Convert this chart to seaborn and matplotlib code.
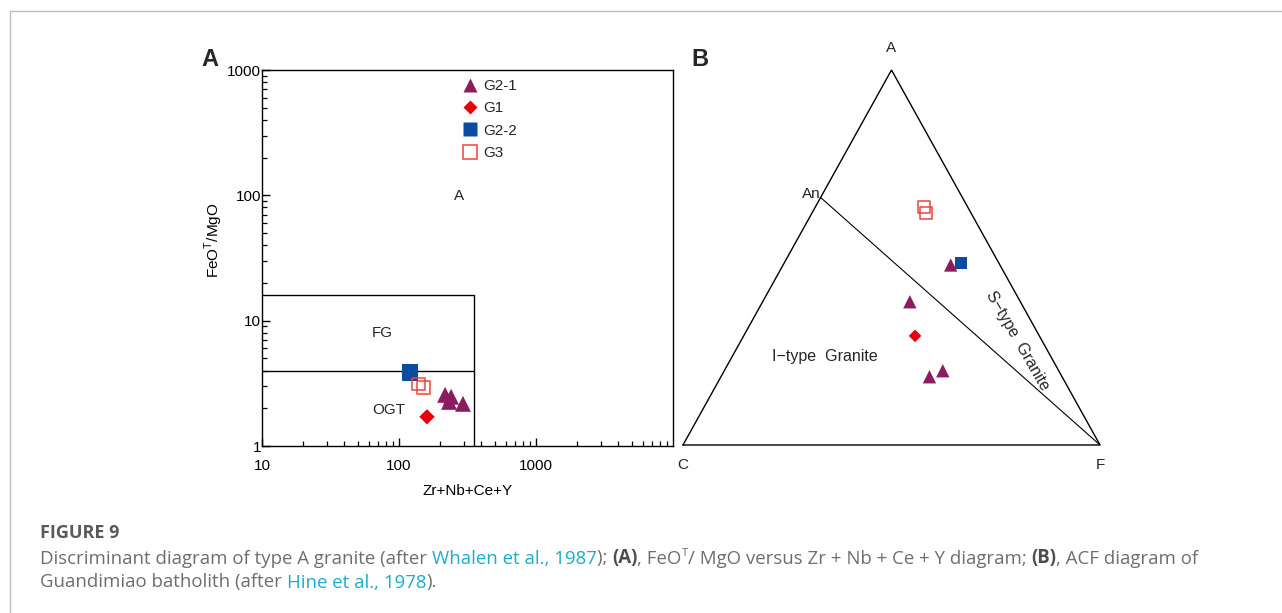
import matplotlib
matplotlib.use("Agg")
import numpy as np
import pandas as pd
import seaborn as sns
import matplotlib.pyplot as plt
from matplotlib.lines import Line2D
from matplotlib.ticker import LogLocator, NullFormatter

# ---------------- data ----------------
groups = ["G2-1", "G1", "G2-2", "G3"]

# (A) FeOT/MgO versus Zr+Nb+Ce+Y
zr_g21 = [217, 240, 232, 293]
fm_g21 = [2.56, 2.47, 2.25, 2.17]
zr_g1 = [160]
fm_g1 = [1.71]
zr_g22 = [120]
fm_g22 = [3.84]
zr_g3 = [138, 150]
fm_g3 = [3.13, 2.95]

# Whalen et al. (1987) field boundaries
zr_limit = 350
fg_top = 16
ogt_top = 4

# (B) ACF compositions as fractions (A, C, F)
acf_g21 = [(0.48, 0.118, 0.402), (0.382, 0.265, 0.353),
           (0.182, 0.318, 0.500), (0.198, 0.278, 0.524)]
acf_g1 = [(0.291, 0.298, 0.411)]
acf_g22 = [(0.486, 0.090, 0.424)]
acf_g3 = [(0.635, 0.104, 0.261), (0.618, 0.109, 0.273)]
an_point = (0.66, 0.34, 0.0)   # An on the A-C join

style = {
    "G2-1": dict(marker="^", color="#8c1c60", open=False),
    "G1":   dict(marker="D", color="#e8000c", open=False),
    "G2-2": dict(marker="s", color="#0b4ca0", open=False),
    "G3":   dict(marker="s", color="#f0423c", open=True),
}
size_a = {"G2-1": 11.5, "G1": 7.8, "G2-2": 12, "G3": 9.2}
size_b = {"G2-1": 9.6, "G1": 6.4, "G2-2": 8.8, "G3": 8.8}
size_leg = {"G2-1": 10, "G1": 7, "G2-2": 9.4, "G3": 9.4}

df_a = pd.concat([
    pd.DataFrame({"zr": zr_g21, "fm": fm_g21, "group": "G2-1"}),
    pd.DataFrame({"zr": zr_g1, "fm": fm_g1, "group": "G1"}),
    pd.DataFrame({"zr": zr_g22, "fm": fm_g22, "group": "G2-2"}),
    pd.DataFrame({"zr": zr_g3, "fm": fm_g3, "group": "G3"}),
], ignore_index=True)


def to_xy(comp):
    a, c, f = comp
    return f + 0.5 * a, a


rows = []
for g, comps in zip(groups, [acf_g21, acf_g1, acf_g22, acf_g3]):
    for comp in comps:
        x, y = to_xy(comp)
        rows.append({"x": x, "y": y, "group": g})
df_b = pd.DataFrame(rows)

# ---------------- figure ----------------
sns.set_theme(style="white")
plt.rcParams["font.family"] = ["Liberation Sans", "DejaVu Sans"]
plt.rcParams["axes.edgecolor"] = "black"
plt.rcParams["axes.linewidth"] = 1.0

W, H = 1282, 613
fig = plt.figure(figsize=(W / 100, H / 100), dpi=100)
fig.patch.set_facecolor("white")

FS = 11


def rect(l, t, r, b):
    return [l / W, 1 - b / H, (r - l) / W, (b - t) / H]


def scatter_groups(ax, df, xcol, ycol, sizes):
    for g in groups:
        st = style[g]
        sub = df[df["group"] == g]
        if st["open"]:
            sns.scatterplot(data=sub, x=xcol, y=ycol, ax=ax, marker=st["marker"],
                            s=sizes[g] ** 2, facecolors="none",
                            edgecolor=st["color"], linewidth=1.1,
                            legend=False, zorder=4, clip_on=False)
        else:
            sns.scatterplot(data=sub, x=xcol, y=ycol, ax=ax, marker=st["marker"],
                            s=sizes[g] ** 2, color=st["color"],
                            edgecolor="none", linewidth=0,
                            legend=False, zorder=4, clip_on=False)


# ---- panel A ----
axA = fig.add_axes(rect(262, 70, 673, 446))
axA.set_xscale("log")
axA.set_yscale("log")
axA.set_xlim(10, 10000)
axA.set_ylim(1, 1000)

axA.plot([10, zr_limit], [fg_top, fg_top], color="black", lw=1.0, zorder=2)
axA.plot([10, zr_limit], [ogt_top, ogt_top], color="black", lw=1.0, zorder=2)
axA.plot([zr_limit, zr_limit], [1, fg_top], color="black", lw=1.0, zorder=2)

scatter_groups(axA, df_a, "zr", "fm", size_a)

axA.set_xticks([10, 100, 1000], labels=["10", "100", "1000"])
axA.set_yticks([1, 10, 100, 1000], labels=["1", "10", "100", "1000"])
axA.xaxis.set_minor_locator(LogLocator(base=10, subs=np.arange(2, 10), numticks=20))
axA.yaxis.set_minor_locator(LogLocator(base=10, subs=np.arange(2, 10), numticks=20))
axA.xaxis.set_minor_formatter(NullFormatter())
axA.yaxis.set_minor_formatter(NullFormatter())
axA.tick_params(axis="both", which="both", direction="in", top=False, right=False,
                bottom=True, left=True, color="black", labelsize=FS,
                labelcolor="black")
axA.tick_params(which="major", length=6, width=1.0)
axA.tick_params(which="minor", length=3.5, width=0.9)
axA.tick_params(axis="y", which="both", pad=0.5)
axA.tick_params(axis="x", which="both", pad=9.5)
for sp in axA.spines.values():
    sp.set_visible(True)
    sp.set_color("black")
    sp.set_linewidth(1.0)

axA.set_xlabel("Zr+Nb+Ce+Y", fontsize=FS, color="black")
axA.xaxis.set_label_coords(0.5, -0.101)
axA.set_ylabel(r"FeO$^{\mathregular{T}}$/MgO", fontsize=FS, color="black")
axA.yaxis.set_label_coords(-0.09, 0.548)

axA.text(274, 98, "A", fontsize=FS, ha="center", va="center")
axA.text(76, 7.9, "FG", fontsize=FS, ha="center", va="center")
axA.text(84.5, 1.92, "OGT", fontsize=FS, ha="center", va="center")

handles = []
for g in groups:
    st = style[g]
    if st["open"]:
        h = Line2D([], [], linestyle="none", marker=st["marker"], markersize=size_leg[g],
                   markerfacecolor="none", markeredgecolor=st["color"], markeredgewidth=1.1)
    else:
        h = Line2D([], [], linestyle="none", marker=st["marker"], markersize=size_leg[g],
                   markerfacecolor=st["color"], markeredgecolor="none")
    handles.append(h)
axA.legend(handles, groups, loc="upper left", bbox_to_anchor=(0.488, 0.976),
           frameon=False, fontsize=FS, handlelength=0.95, handletextpad=0.4,
           labelspacing=0.55, borderpad=0, borderaxespad=0)

# ---- panel B ----
axB = fig.add_axes(rect(683, 70, 1100, 445))
axB.set_xlim(0, 1)
axB.set_ylim(0, 1)
axB.axis("off")

apex = to_xy((1, 0, 0))
c_pt = to_xy((0, 1, 0))
f_pt = to_xy((0, 0, 1))
an_xy = to_xy(an_point)
axB.plot([c_pt[0], f_pt[0], apex[0], c_pt[0]], [c_pt[1], f_pt[1], apex[1], c_pt[1]],
         color="black", lw=1.0, clip_on=False, solid_joinstyle="miter")
axB.plot([an_xy[0], f_pt[0]], [an_xy[1], f_pt[1]], color="black", lw=0.8, clip_on=False)

scatter_groups(axB, df_b, "x", "y", size_b)

axB.text(apex[0], apex[1] + 0.058, "A", fontsize=FS, ha="center", va="center")
axB.text(c_pt[0], c_pt[1] - 0.053, "C", fontsize=FS, ha="center", va="center")
axB.text(f_pt[0], f_pt[1] - 0.053, "F", fontsize=FS, ha="center", va="center")
axB.text(an_xy[0] - 0.001, an_xy[1] + 0.01, "An", fontsize=FS, ha="right", va="center")
axB.text((825 - 683) / 417, (445 - 357) / 375, "I\u2212type  Granite", fontsize=11.5,
         ha="center", va="center")
axB.text((1017 - 683) / 417, (445 - 341) / 375, "S\u2212type  Granite", fontsize=11.5,
         ha="center", va="center", rotation=-60, rotation_mode="anchor")
axB.set_xlabel("")
axB.set_ylabel("")

# panel letters
fig.text(210 / W, 1 - 60 / H, "A", fontsize=17, fontweight="bold", ha="center", va="center")
fig.text(700 / W, 1 - 59 / H, "B", fontsize=17, fontweight="bold", ha="center", va="center")

# card border
fig.add_artist(Line2D([9.5 / W, 1], [1 - 10.5 / H, 1 - 10.5 / H], color="#bdbdbd", lw=1.0))
fig.add_artist(Line2D([9.5 / W, 9.5 / W], [0, 1 - 10.5 / H], color="#bdbdbd", lw=1.0))

# ---------------- caption ----------------
renderer = fig.canvas.get_renderer()
cap_font = "Open Sans"
gray = "#6e6e6e"
cyan = "#1aadcc"
dark = "#4d4d4d"


def text_width(s, **kw):
    t = fig.text(0, 0, s + "x", **kw)
    w1 = t.get_window_extent(renderer).width
    t.set_text("x")
    w2 = t.get_window_extent(renderer).width
    t.remove()
    return w1 - w2


def draw_runs(runs, x0, baseline, fs):
    x = x0
    for s, color, weight, rise, scale in runs:
        kw = dict(fontsize=fs * scale, color=color, fontweight=weight, family=cap_font)
        fig.text(x / W, 1 - (baseline - rise) / H, s, ha="left", va="baseline", **kw)
        x += text_width(s, **kw)


fig.text(40 / W, 1 - 538.5 / H, "FIGURE 9", fontsize=13, fontweight="bold", color="#595959",
         family=cap_font, ha="left", va="baseline")

line1 = [
    ("Discriminant diagram of type A granite (after ", gray, "normal", 0, 1),
    ("Whalen et al., 1987", cyan, "normal", 0, 1),
    ("); ", gray, "normal", 0, 1),
    ("(A)", dark, "bold", 0, 1),
    (", FeO", gray, "normal", 0, 1),
    ("T", gray, "normal", 7, 0.6),
    ("/ MgO versus Zr + Nb + Ce + Y diagram; ", gray, "normal", 0, 1),
    ("(B)", dark, "bold", 0, 1),
    (", ACF diagram of", gray, "normal", 0, 1),
]
line2 = [
    ("Guandimiao batholith (after ", gray, "normal", 0, 1),
    ("Hine et al., 1978", cyan, "normal", 0, 1),
    (").", gray, "normal", 0, 1),
]
draw_runs(line1, 40, 563.5, 13.4)
draw_runs(line2, 40, 587.5, 13.4)

fig.savefig("out.png", dpi=100, facecolor="white")
